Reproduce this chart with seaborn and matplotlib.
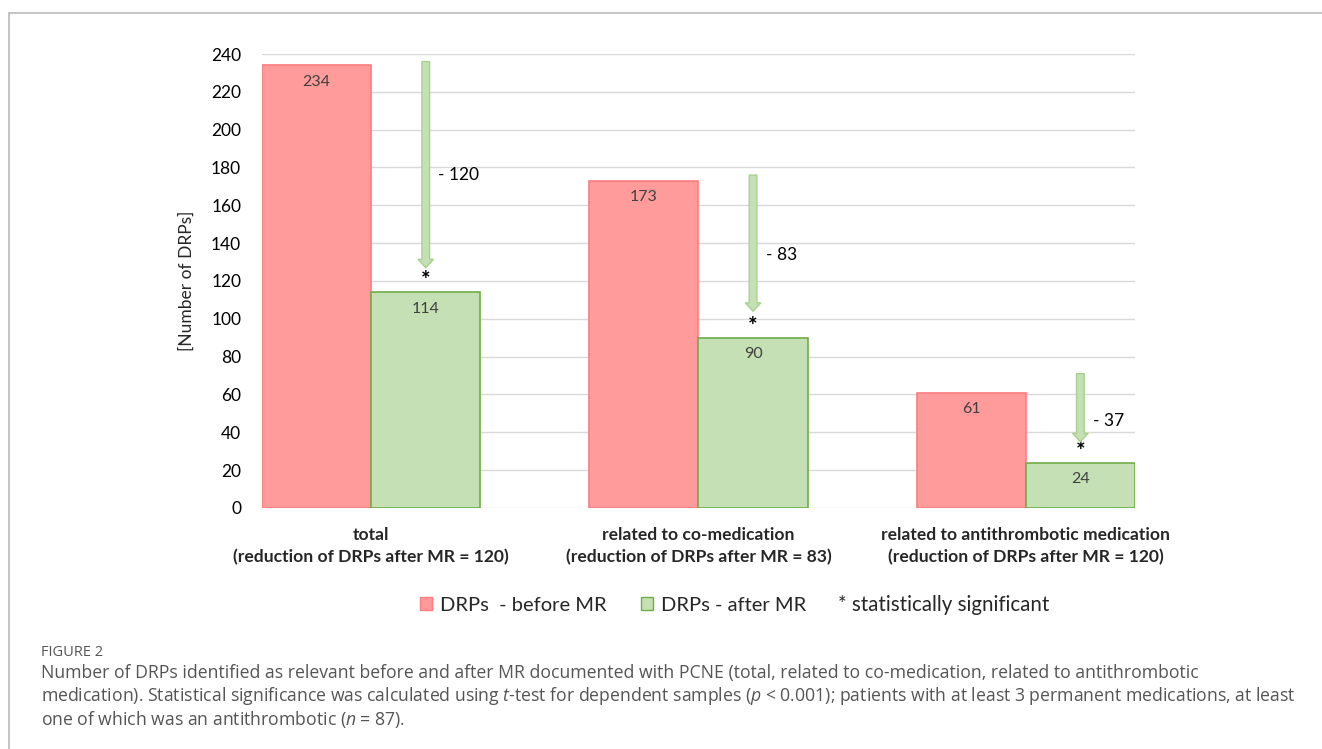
import matplotlib
matplotlib.use("Agg")
import matplotlib.pyplot as plt
from matplotlib.patches import Patch, FancyArrowPatch
from matplotlib.lines import Line2D
import seaborn as sns
import pandas as pd

# ---------------- data ----------------
categories = [
    "total\n(reduction of DRPs after MR = 120)",
    "related to co-medication\n(reduction of DRPs after MR = 83)",
    "related to antithrombotic medication\n(reduction of DRPs after MR = 120)",
]
series_names = ["DRPs  - before MR", "DRPs - after MR"]
before_values = [234, 173, 61]
after_values = [114, 90, 24]
reduction_labels = ["- 120", "- 83", "- 37"]
arrow_start = [236, 176, 71]
arrow_end = [127, 104, 35]
reduction_label_y = [176, 134, 46]
star_y = [120, 96, 30]
y_ticks = list(range(0, 241, 20))
significance_label = "* statistically significant"
caption_title = "FIGURE 2"
caption_lines = [
    "Number of DRPs identified as relevant before and after MR documented with PCNE (total, related to co-medication, related to antithrombotic",
    r"medication). Statistical significance was calculated using $\mathit{t}$-test for dependent samples ($\mathit{p}$ < 0.001); patients with at least 3 permanent medications, at least",
    r"one of which was an antithrombotic ($\mathit{n}$ = 87).",
]

df = pd.DataFrame({
    "category": categories * 2,
    "value": before_values + after_values,
    "period": [series_names[0]] * 3 + [series_names[1]] * 3,
})

# ---------------- style ----------------
sns.set_theme(style="white")
plt.rcParams["font.family"] = ["Lato", "DejaVu Sans"]
plt.rcParams["mathtext.fontset"] = "custom"
plt.rcParams["mathtext.rm"] = "Open Sans"
plt.rcParams["mathtext.it"] = "Open Sans:italic"

red_fill, red_edge = "#FF9B9B", "#FF7C80"
green_fill, green_edge = "#C5E0B4", "#70AD47"
arrow_fill, arrow_edge = "#C5E0B4", "#A9D18E"

fig = plt.figure(figsize=(13.22, 7.49), dpi=100)
ax = fig.add_axes([0.1982, 0.3218, 0.6603, 0.6061])

sns.barplot(data=df, x="category", y="value", hue="period",
            palette=[red_fill, green_fill], width=0.667, gap=0,
            linewidth=1.2, saturation=1, legend=False, ax=ax)
for cont, ec in zip(ax.containers, [red_edge, green_edge]):
    for p in cont:
        p.set_edgecolor(ec)
        p.set_zorder(3)

ax.set_xlim(-0.3335, 2.3335)
ax.set_ylim(0, 240)
ax.set_yticks(y_ticks)
ax.tick_params(axis="y", labelsize=12.5, colors="#000000", length=0, pad=15)
ax.tick_params(axis="x", length=0, pad=14)
for lbl in ax.get_xticklabels():
    lbl.set_fontweight("bold")
    lbl.set_fontsize(12.6)
    lbl.set_linespacing(1.4)
ax.set_xlabel("")
ax.set_ylabel("[Number of DRPs]", fontsize=12.5, labelpad=12)
ax.yaxis.grid(True, color="#D9D9D9", linewidth=1)
ax.set_axisbelow(True)
for s in ax.spines.values():
    s.set_visible(False)

# value labels inside bars
for cont in ax.containers:
    for p in cont:
        h = p.get_height()
        ax.annotate(f"{h:.0f}", (p.get_x() + p.get_width() / 2, h),
                    xytext=(0, -12), textcoords="offset points",
                    ha="center", va="center", fontsize=11.5, color="#404040", zorder=5)

# reduction arrows, labels and stars
green_bars = list(ax.containers[1])
for i, p in enumerate(green_bars):
    xc = p.get_x() + p.get_width() / 2
    arr = FancyArrowPatch((xc, arrow_start[i]), (xc, arrow_end[i]),
                          arrowstyle="simple,head_width=11,head_length=6,tail_width=5.5",
                          mutation_scale=1, fc=arrow_fill, ec=arrow_edge, lw=1,
                          shrinkA=0, shrinkB=0, zorder=4)
    ax.add_patch(arr)
    ax.annotate(reduction_labels[i], (xc, reduction_label_y[i]), xytext=(9, 0),
                textcoords="offset points", ha="left", va="center", fontsize=12.5, color="#000000")
    ax.text(xc, star_y[i], "*", ha="center", va="center", fontsize=16, fontweight="bold", color="#000000")

# legend
handles = [Patch(fc=red_fill, ec=red_edge, lw=1),
           Patch(fc=green_fill, ec=green_edge, lw=1)]
fig.legend(handles, series_names, loc="center left",
           bbox_to_anchor=(420 / 1322, 0.192), ncol=2, frameon=False, fontsize=14.5,
           handlelength=0.6, handleheight=0.6, handletextpad=0.4, columnspacing=1.7,
           borderpad=0, borderaxespad=0)
fig.text(838 / 1322, 0.192, significance_label, fontsize=14.8, ha="left", va="center")

# frame lines
fig.add_artist(Line2D([9 / 1322, 1], [1 - 13 / 749, 1 - 13 / 749], color="#BBBBBB", lw=1.2))
fig.add_artist(Line2D([9 / 1322, 9 / 1322], [0, 1 - 13 / 749], color="#BBBBBB", lw=1.2))

# caption
fig.text(41 / 1322, 1 - 653 / 749, caption_title, fontsize=10.5, color="#555555",
         family="Open Sans", va="center")
for k, line in enumerate(caption_lines):
    fig.text(41 / 1322, 1 - (673 + 23 * k) / 749, line, fontsize=12.7, color="#555555",
             family="Open Sans", va="center")

fig.savefig("out.png", dpi=100)
